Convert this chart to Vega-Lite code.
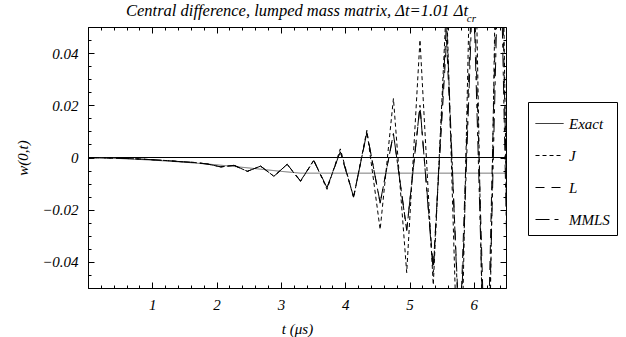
{
  "$schema": "https://vega.github.io/schema/vega-lite/v6.json",
  "width": 418,
  "height": 261,
  "autosize": {"type": "none"},
  "padding": {"left": 88, "top": 27, "right": 120, "bottom": 49},
  "background": "white",
  "title": {"text": "Central difference, lumped  mass  matrix, Δt=1.01 Δt", "font": "Liberation Serif, Times New Roman, Times, serif", "fontStyle": "italic", "fontWeight": "normal", "fontSize": 16.5, "baseline": "alphabetic", "offset": 0, "dy": 19, "color": "black"},
  "config": {
    "view": {"stroke": "black", "strokeWidth": 1},
    "axis": {"domain": false, "grid": false, "tickColor": "black", "tickWidth": 1, "labelFont": "Liberation Serif, Times New Roman, Times, serif", "labelFontStyle": "italic", "labelFontSize": 15, "labelColor": "black", "titleFont": "Liberation Serif, Times New Roman, Times, serif", "titleFontStyle": "italic", "titleFontWeight": "normal", "titleFontSize": 15, "titleColor": "black"},
    "legend": {"labelFont": "Liberation Serif, Times New Roman, Times, serif", "labelFontStyle": "italic", "labelFontSize": 15, "labelColor": "black"}
  },
  "data": {"values": [
    {"t": 0, "w": 0, "s": "J"}, {"t": 0.2065, "w": -0.0001, "s": "J"}, {"t": 0.413, "w": -0.0002, "s": "J"}, {"t": 0.6195, "w": -0.0004, "s": "J"}, {"t": 0.826, "w": -0.0006, "s": "J"}, {"t": 1.0325, "w": -0.0009, "s": "J"}, {"t": 1.239, "w": -0.0012, "s": "J"}, {"t": 1.4455, "w": -0.0016, "s": "J"}, {"t": 1.652, "w": -0.0019, "s": "J"}, {"t": 1.8585, "w": -0.0025, "s": "J"}, {"t": 2.065, "w": -0.0036, "s": "J"}, {"t": 2.2715, "w": -0.003, "s": "J"}, {"t": 2.478, "w": -0.0053, "s": "J"}, {"t": 2.6845, "w": -0.0033, "s": "J"}, {"t": 2.891, "w": -0.0072, "s": "J"}, {"t": 3.0975, "w": -0.0026, "s": "J"},
    {"t": 3.304, "w": -0.0092, "s": "J"}, {"t": 3.5105, "w": -0.001, "s": "J"}, {"t": 3.717, "w": -0.0122, "s": "J"}, {"t": 3.9235, "w": 0.0033, "s": "J"}, {"t": 4.13, "w": -0.0154, "s": "J"}, {"t": 4.3365, "w": 0.0104, "s": "J"}, {"t": 4.543, "w": -0.0276, "s": "J"}, {"t": 4.7495, "w": 0.0226, "s": "J"}, {"t": 4.956, "w": -0.0441, "s": "J"}, {"t": 5.1625, "w": 0.0451, "s": "J"}, {"t": 5.369, "w": -0.0488, "s": "J"}, {"t": 5.5755, "w": 0.06, "s": "J"}, {"t": 5.782, "w": -0.11, "s": "J"}, {"t": 5.9885, "w": 0.13, "s": "J"}, {"t": 6.195, "w": -0.15, "s": "J"}, {"t": 6.4015, "w": 0.17, "s": "J"}, {"t": 6.608, "w": -0.2, "s": "J"},
    {"t": 0, "w": 0, "s": "L"}, {"t": 0.2065, "w": -0.0001, "s": "L"}, {"t": 0.413, "w": -0.0002, "s": "L"}, {"t": 0.6195, "w": -0.0004, "s": "L"}, {"t": 0.826, "w": -0.0006, "s": "L"}, {"t": 1.0325, "w": -0.0009, "s": "L"}, {"t": 1.239, "w": -0.0012, "s": "L"}, {"t": 1.4455, "w": -0.0016, "s": "L"}, {"t": 1.652, "w": -0.0019, "s": "L"}, {"t": 1.8585, "w": -0.0025, "s": "L"}, {"t": 2.065, "w": -0.0036, "s": "L"}, {"t": 2.2715, "w": -0.003, "s": "L"}, {"t": 2.478, "w": -0.0053, "s": "L"}, {"t": 2.6845, "w": -0.0033, "s": "L"}, {"t": 2.891, "w": -0.0072, "s": "L"}, {"t": 3.0975, "w": -0.0026, "s": "L"},
    {"t": 3.304, "w": -0.009, "s": "L"}, {"t": 3.5105, "w": -0.0012, "s": "L"}, {"t": 3.717, "w": -0.0115, "s": "L"}, {"t": 3.9235, "w": 0.0022, "s": "L"}, {"t": 4.13, "w": -0.015, "s": "L"}, {"t": 4.3365, "w": 0.0095, "s": "L"}, {"t": 4.543, "w": -0.0173, "s": "L"}, {"t": 4.7495, "w": 0.009, "s": "L"}, {"t": 4.956, "w": -0.0276, "s": "L"}, {"t": 5.1625, "w": 0.0194, "s": "L"}, {"t": 5.369, "w": -0.042, "s": "L"}, {"t": 5.5755, "w": 0.045, "s": "L"}, {"t": 5.782, "w": -0.07, "s": "L"}, {"t": 5.9885, "w": 0.08, "s": "L"}, {"t": 6.195, "w": -0.1, "s": "L"}, {"t": 6.4015, "w": 0.12, "s": "L"}, {"t": 6.608, "w": -0.14, "s": "L"},
    {"t": 0, "w": 0, "s": "MMLS"}, {"t": 0.2065, "w": -0.0001, "s": "MMLS"}, {"t": 0.413, "w": -0.0002, "s": "MMLS"}, {"t": 0.6195, "w": -0.0004, "s": "MMLS"}, {"t": 0.826, "w": -0.0006, "s": "MMLS"}, {"t": 1.0325, "w": -0.0009, "s": "MMLS"}, {"t": 1.239, "w": -0.0012, "s": "MMLS"}, {"t": 1.4455, "w": -0.0016, "s": "MMLS"}, {"t": 1.652, "w": -0.0019, "s": "MMLS"}, {"t": 1.8585, "w": -0.0025, "s": "MMLS"}, {"t": 2.065, "w": -0.0036, "s": "MMLS"}, {"t": 2.2715, "w": -0.003, "s": "MMLS"}, {"t": 2.478, "w": -0.0053, "s": "MMLS"}, {"t": 2.6845, "w": -0.0033, "s": "MMLS"}, {"t": 2.891, "w": -0.0072, "s": "MMLS"}, {"t": 3.0975, "w": -0.0026, "s": "MMLS"},
    {"t": 3.304, "w": -0.009, "s": "MMLS"}, {"t": 3.5105, "w": -0.0012, "s": "MMLS"}, {"t": 3.717, "w": -0.0116, "s": "MMLS"}, {"t": 3.9235, "w": 0.0023, "s": "MMLS"}, {"t": 4.13, "w": -0.0151, "s": "MMLS"}, {"t": 4.3365, "w": 0.0096, "s": "MMLS"}, {"t": 4.543, "w": -0.0175, "s": "MMLS"}, {"t": 4.7495, "w": 0.0092, "s": "MMLS"}, {"t": 4.956, "w": -0.028, "s": "MMLS"}, {"t": 5.1625, "w": 0.02, "s": "MMLS"}, {"t": 5.369, "w": -0.044, "s": "MMLS"}, {"t": 5.5755, "w": 0.052, "s": "MMLS"}, {"t": 5.782, "w": -0.075, "s": "MMLS"}, {"t": 5.9885, "w": 0.07, "s": "MMLS"}, {"t": 6.195, "w": -0.11, "s": "MMLS"}, {"t": 6.4015, "w": 0.1, "s": "MMLS"}, {"t": 6.608, "w": -0.15, "s": "MMLS"},
    {"t": 0, "w": 0, "s": "Exact"}, {"t": 0.5, "w": -0.0004, "s": "Exact"}, {"t": 1, "w": -0.001, "s": "Exact"}, {"t": 1.5, "w": -0.0018, "s": "Exact"}, {"t": 2, "w": -0.0028, "s": "Exact"}, {"t": 2.5, "w": -0.004, "s": "Exact"}, {"t": 3, "w": -0.0053, "s": "Exact"}, {"t": 3.3, "w": -0.006, "s": "Exact"}, {"t": 6.5, "w": -0.006, "s": "Exact"}
  ]},
  "layer": [
    {
      "mark": {"type": "rule", "color": "black", "strokeWidth": 1},
      "encoding": {"y": {"datum": 0, "type": "quantitative", "axis": null}}
    },
    {
      "transform": [{"filter": "datum.s === 'Exact'"}],
      "mark": {"type": "line", "clip": true, "strokeWidth": 1, "color": "#666666"},
      "encoding": {
        "x": {"field": "t", "type": "quantitative", "scale": {"domain": [0, 6.5], "nice": false, "zero": false},
          "axis": {"orient": "bottom", "values": [0, 0.2, 0.4, 0.6, 0.8, 1, 1.2, 1.4, 1.6, 1.8, 2, 2.2, 2.4, 2.6, 2.8, 3, 3.2, 3.4, 3.6, 3.8, 4, 4.2, 4.4, 4.6, 4.8, 5, 5.2, 5.4, 5.6, 5.8, 6, 6.2, 6.4],
            "tickSize": {"condition": {"test": "abs(datum.value - round(datum.value)) < 0.001", "value": -6}, "value": -3},
            "labelExpr": "abs(datum.value - round(datum.value)) < 0.001 && datum.value > 0.5 ? '' + round(datum.value) : ''",
            "labelPadding": 15, "title": "t (μs)", "titlePadding": 9}},
        "y": {"field": "w", "type": "quantitative", "scale": {"domain": [-0.05, 0.05], "nice": false, "zero": false},
          "axis": {"orient": "left", "values": [-0.05, -0.045, -0.04, -0.035, -0.03, -0.025, -0.02, -0.015, -0.01, -0.005, 0, 0.005, 0.01, 0.015, 0.02, 0.025, 0.03, 0.035, 0.04, 0.045, 0.05],
            "tickSize": {"condition": {"test": "abs(datum.value * 50 - round(datum.value * 50)) < 0.001", "value": -6}, "value": -3},
            "labelExpr": "abs(datum.value) < 0.0001 ? '0' : (abs(datum.value * 50 - round(datum.value * 50)) < 0.001 && abs(datum.value) < 0.049 ? format(datum.value, '.2f') : '')",
            "labelPadding": 16, "title": "w(0,t)", "titlePadding": 11}},
        "strokeDash": {"field": "s", "type": "nominal", "scale": {"domain": ["Exact", "J", "L", "MMLS"], "range": [[1, 0], [4, 3], [9, 7], [14, 5, 4, 5]]},
          "legend": {"title": null, "orient": "none", "legendX": 440, "legendY": 75, "strokeColor": "black", "fillColor": "white", "padding": 7, "symbolType": "stroke", "symbolSize": 784, "symbolStrokeWidth": 1, "symbolStrokeColor": "black", "labelOffset": 5, "rowPadding": 9}}
      }
    },
    {
      "transform": [{"filter": "datum.s !== 'Exact'"}],
      "mark": {"type": "line", "clip": true, "strokeWidth": 1, "color": "black"},
      "encoding": {
        "x": {"field": "t", "type": "quantitative", "axis": null},
        "y": {"field": "w", "type": "quantitative", "axis": null},
        "strokeDash": {"field": "s", "type": "nominal"}
      }
    },
    {
      "mark": {"type": "point", "opacity": 0, "clip": true},
      "encoding": {
        "x": {"field": "t", "type": "quantitative",
          "axis": {"orient": "top", "values": [0, 0.2, 0.4, 0.6, 0.8, 1, 1.2, 1.4, 1.6, 1.8, 2, 2.2, 2.4, 2.6, 2.8, 3, 3.2, 3.4, 3.6, 3.8, 4, 4.2, 4.4, 4.6, 4.8, 5, 5.2, 5.4, 5.6, 5.8, 6, 6.2, 6.4],
            "tickSize": {"condition": {"test": "abs(datum.value - round(datum.value)) < 0.001", "value": -6}, "value": -3},
            "labels": false, "title": null}},
        "y": {"field": "w", "type": "quantitative",
          "axis": {"orient": "right", "values": [-0.05, -0.045, -0.04, -0.035, -0.03, -0.025, -0.02, -0.015, -0.01, -0.005, 0, 0.005, 0.01, 0.015, 0.02, 0.025, 0.03, 0.035, 0.04, 0.045, 0.05],
            "tickSize": {"condition": {"test": "abs(datum.value * 50 - round(datum.value * 50)) < 0.001", "value": -6}, "value": -3},
            "labels": false, "title": null}}
      }
    },
    {
      "data": {"values": [{"sub": "cr"}]},
      "mark": {"type": "text", "font": "Liberation Serif, Times New Roman, Times, serif", "fontStyle": "italic", "fontSize": 11, "align": "left", "baseline": "alphabetic", "color": "black"},
      "encoding": {
        "x": {"datum": 5.89, "type": "quantitative", "axis": null},
        "y": {"datum": 0.0518, "type": "quantitative", "axis": null},
        "text": {"field": "sub"}
      }
    }
  ],
  "resolve": {"axis": {"x": "independent", "y": "independent"}}
}
